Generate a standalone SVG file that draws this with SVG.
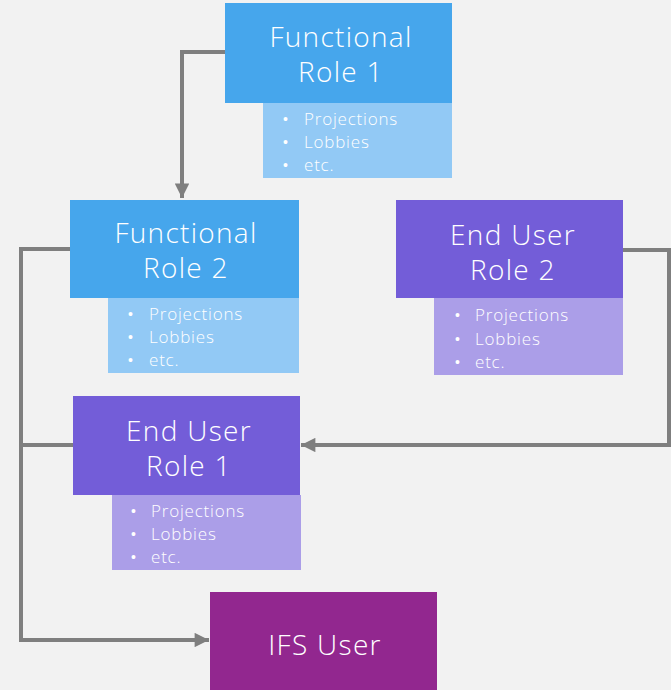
<svg xmlns="http://www.w3.org/2000/svg" width="671" height="690" viewBox="0 0 671 690">
<style>
.title{font-family:"Open Sans","Liberation Sans",sans-serif;font-weight:300;font-size:28px;letter-spacing:1.3px;fill:#fff;text-anchor:middle}
.item{font-family:"Open Sans","Liberation Sans",sans-serif;font-weight:300;font-size:17px;letter-spacing:0.8px;fill:#fff}
.bul{font-family:"Liberation Sans",sans-serif;font-size:14px;fill:#fff}
.conn{fill:none;stroke:#7f7f7f;stroke-width:4}
.fr{fill:#46a6ec}.frs{fill:#92c9f5}
.eu{fill:#735dd8}.eus{fill:#ab9ee8}
.ifs{fill:#92278f}
</style>
<defs>
<marker id="arr" viewBox="0 0 10 10" refX="10" refY="5" markerWidth="4" markerHeight="3.6" orient="auto" markerUnits="strokeWidth">
<path d="M0,0 L10,5 L0,10 z" fill="#7f7f7f"/>
</marker>
</defs>
<rect width="671" height="690" fill="#f2f2f2"/>
<g id="connectors">
<path class="conn" d="M225,52 H182 V198" marker-end="url(#arr)"/>
<path class="conn" d="M623,250 H669 V445 H301" marker-end="url(#arr)"/>
<path class="conn" d="M70,249 H21 V640 H209" marker-end="url(#arr)"/>
<path class="conn" d="M73,445 H21"/>
</g>
<g id="functional-role-1">
<rect class="fr" x="225" y="3" width="227" height="100"/>
<rect class="frs" x="263" y="103" width="189" height="75"/>
<text class="title" x="341" y="47">Functional</text>
<text class="title" x="341" y="82">Role 1</text>
<text class="item" x="304" y="125">Projections</text>
<text class="item" x="304" y="148">Lobbies</text>
<text class="item" x="304" y="171">etc.</text>
<text class="bul" x="283" y="124">•</text>
<text class="bul" x="283" y="147">•</text>
<text class="bul" x="283" y="170">•</text>
</g>
<g id="functional-role-2">
<rect class="fr" x="70" y="200" width="229" height="98"/>
<rect class="frs" x="108" y="298" width="191" height="75"/>
<text class="title" x="186" y="243">Functional</text>
<text class="title" x="186" y="278">Role 2</text>
<text class="item" x="149" y="320">Projections</text>
<text class="item" x="149" y="343">Lobbies</text>
<text class="item" x="149" y="366">etc.</text>
<text class="bul" x="128" y="319">•</text>
<text class="bul" x="128" y="342">•</text>
<text class="bul" x="128" y="365">•</text>
</g>
<g id="end-user-role-2">
<rect class="eu" x="396" y="200" width="227" height="98"/>
<rect class="eus" x="434" y="298" width="189" height="77"/>
<text class="title" x="513" y="245">End User</text>
<text class="title" x="513" y="280">Role 2</text>
<text class="item" x="475" y="321">Projections</text>
<text class="item" x="475" y="345">Lobbies</text>
<text class="item" x="475" y="368">etc.</text>
<text class="bul" x="455" y="320">•</text>
<text class="bul" x="455" y="344">•</text>
<text class="bul" x="455" y="367">•</text>
</g>
<g id="end-user-role-1">
<rect class="eu" x="73" y="396" width="227" height="99"/>
<rect class="eus" x="112" y="495" width="189" height="75"/>
<text class="title" x="189" y="441">End User</text>
<text class="title" x="189" y="476">Role 1</text>
<text class="item" x="151" y="517">Projections</text>
<text class="item" x="151" y="540">Lobbies</text>
<text class="item" x="151" y="563">etc.</text>
<text class="bul" x="131" y="516">•</text>
<text class="bul" x="131" y="539">•</text>
<text class="bul" x="131" y="562">•</text>
</g>
<g id="ifs-user">
<rect class="ifs" x="210" y="592" width="227" height="98"/>
<text class="title" x="325" y="655">IFS User</text>
</g>
</svg>
